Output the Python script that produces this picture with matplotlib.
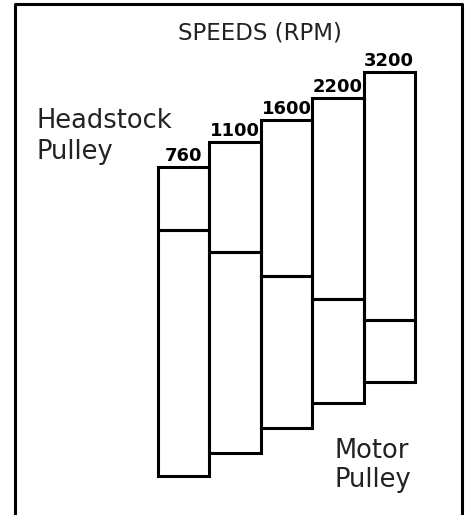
import matplotlib
matplotlib.use('Agg')
import matplotlib.pyplot as plt
from matplotlib.lines import Line2D

# step pulley data (heights in drawing units, y measured up from the lowest step)
speeds = ['760', '1100', '1600', '2200', '3200']
motorBase = [0, 23, 48, 73, 94]
motorHeight = [246, 201, 152, 104, 62]
headstockHeight = [63, 110, 156, 201, 248]


def plotPulleySteps(fig):
    ax = fig.add_axes([158 / 465, 1 - 476 / 515, 257 / 465, 404 / 515])
    positions = list(range(len(speeds)))
    dividers = [b + h for b, h in zip(motorBase, motorHeight)]
    tops = [d + h for d, h in zip(dividers, headstockHeight)]

    # motor pulley (lower part) and headstock pulley (upper part)
    ax.bar(positions, motorHeight, bottom=motorBase, width=1.0, fill=False,
           edgecolor='black', linewidth=2.2, clip_on=False)
    ax.bar(positions, headstockHeight, bottom=dividers, width=1.0, fill=False,
           edgecolor='black', linewidth=2.2, clip_on=False)

    for pos, top, label in zip(positions, tops, speeds):
        ax.annotate(label, (pos, top), xytext=(0, 4), textcoords='offset points',
                    ha='center', va='baseline', fontsize=13, fontweight='bold',
                    family='DejaVu Sans', annotation_clip=False)

    ax.set_xlim(-0.5, len(speeds) - 0.5)
    ax.set_ylim(0, max(tops))
    ax.axis('off')
    return ax


fig = plt.figure(figsize=(4.65, 5.15), dpi=100)
fig.patch.set_facecolor('white')

plotPulleySteps(fig)

fig.text(259.5 / 465, 1 - 40 / 515, 'SPEEDS (RPM)', ha='center', va='baseline',
         fontsize=16.5, color='#222222')
fig.text(36 / 465, 1 - 128 / 515, 'Headstock', ha='left', va='baseline',
         fontsize=18.5, color='#222222')
fig.text(36 / 465, 1 - 159 / 515, 'Pulley', ha='left', va='baseline',
         fontsize=18.5, color='#222222')
fig.text(334 / 465, 1 - 458 / 515, 'Motor', ha='left', va='baseline',
         fontsize=18.5, color='#222222')
fig.text(334 / 465, 1 - 487 / 515, 'Pulley', ha='left', va='baseline',
         fontsize=18.5, color='#222222')

# open frame around the figure (left, top, right)
fig.add_artist(Line2D([15 / 465, 15 / 465, 462 / 465, 462 / 465],
                      [0, 1 - 3.5 / 515, 1 - 3.5 / 515, 0],
                      transform=fig.transFigure, color='black', linewidth=2.2))

fig.savefig('out.png', dpi=100)
